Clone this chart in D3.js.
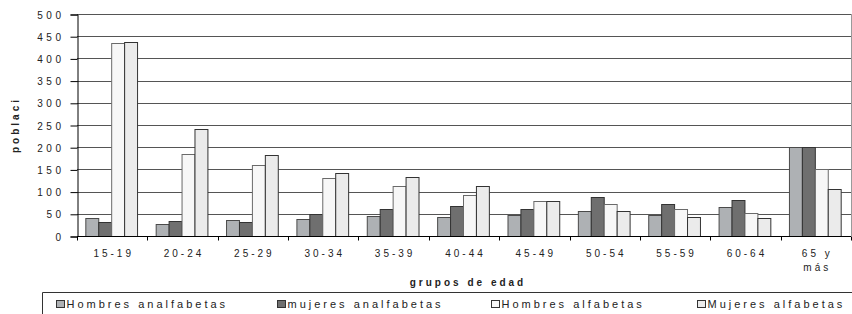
<!DOCTYPE html>
<html>
<head>
<meta charset="utf-8">
<script src="https://cdn.jsdelivr.net/npm/d3@7"></script>
<style>
  html, body { margin: 0; padding: 0; background: #fff; }
  svg { display: block; font-family: "Liberation Sans", Arial, sans-serif; }
</style>
</head>
<body>
<svg id="chart" width="852" height="314"></svg>
<script>
const categories = ["15-19", "20-24", "25-29", "30-34", "35-39", "40-44", "45-49", "50-54", "55-59", "60-64", "65 y\nmás"];
const seriesNames = ["Hombres analfabetas", "mujeres analfabetas", "Hombres alfabetas", "Mujeres alfabetas"];
const hombresAnalfabetas = [40, 28, 35, 39, 44, 43, 47, 56, 48, 66, 200];
const mujeresAnalfabetas = [31, 34, 32, 50, 60, 67, 60, 88, 73, 80, 200];
const hombresAlfabetas = [435, 184, 159, 131, 113, 92, 78, 73, 60, 52, 152];
const mujeresAlfabetas = [438, 240, 182, 143, 132, 113, 78, 56, 43, 41, 106];
const yTicks = [0, 50, 100, 150, 200, 250, 300, 350, 400, 450, 500];

const seriesValues = [hombresAnalfabetas, mujeresAnalfabetas, hombresAlfabetas, mujeresAlfabetas];
const fills = ["#aeb1b4", "#6f6f6f", "#f7f7f7", "#ebebeb"];
const strokes = ["#4a4a4a", "#333333", "#6a6a6a", "#333333"];

const svg = d3.select("#chart");
const pLeft = 77, pRight = 851, pTop = 14, pBottom = 236;

const x = d3.scaleBand().domain(categories).range([pLeft, pRight]).paddingInner(0).paddingOuter(0);
const xs = d3.scaleBand().domain(d3.range(seriesNames.length)).range([0, x.bandwidth()]).paddingInner(0).paddingOuter(0.72);
const y = d3.scaleLinear().domain([0, 500]).range([pBottom, pTop]);

// gridlines
svg.append("g").selectAll("line").data(yTicks.filter(d => d > 0)).join("line")
  .attr("x1", pLeft).attr("x2", pRight)
  .attr("y1", d => Math.round(y(d)) + 0.5).attr("y2", d => Math.round(y(d)) + 0.5)
  .attr("stroke", "#555555").attr("stroke-width", 1);

// right border
svg.append("line").attr("x1", pRight + 0.5).attr("x2", pRight + 0.5)
  .attr("y1", pTop).attr("y2", pBottom).attr("stroke", "#9a9a9a");

// bars
const groups = svg.append("g").selectAll("g").data(categories).join("g")
  .attr("transform", d => `translate(${x(d)},0)`);
groups.selectAll("rect").data((d, i) => seriesValues.map((s, k) => ({k, v: s[i]}))).join("rect")
  .attr("x", d => xs(d.k) - 0.5)
  .attr("width", xs.bandwidth())
  .attr("y", d => Math.round(y(d.v)) + 0.5)
  .attr("height", d => Math.round(pBottom) - Math.round(y(d.v)))
  .attr("fill", d => fills[d.k])
  .attr("stroke", d => strokes[d.k])
  .attr("stroke-width", 1);

// y axis
const yAxis = d3.axisLeft(y).tickValues(yTicks).tickSize(7).tickPadding(6).tickFormat(d3.format("d"));
const ya = svg.append("g").attr("transform", `translate(${pLeft + 0.5},0.5)`).call(yAxis);
ya.select(".domain").attr("stroke", "#000");
ya.selectAll(".tick line").attr("stroke", "#000");
ya.selectAll(".tick text").attr("font-size", 10).attr("fill", "#222")
  .attr("font-family", "Liberation Sans, Arial, sans-serif").attr("letter-spacing", "3.5px")
  .attr("dy", "0.36em");

// x axis
const xa = svg.append("g").attr("transform", `translate(0,${pBottom + 0.5})`);
xa.append("line").attr("x1", pLeft).attr("x2", pRight).attr("stroke", "#000");
const bounds = categories.map(c => x(c)).concat([pRight]);
xa.selectAll("line.tk").data(bounds).join("line").attr("class", "tk")
  .attr("x1", d => Math.round(d) + 0.5).attr("x2", d => Math.round(d) + 0.5)
  .attr("y1", 0).attr("y2", 4).attr("stroke", "#000");
xa.selectAll("text.lbl").data(categories).join("text").attr("class", "lbl")
  .attr("text-anchor", "middle")
  .attr("font-size", 10).attr("fill", "#222").attr("letter-spacing", "3px")
  .each(function(d) {
    const t = d3.select(this);
    d.split("\n").forEach((line, i) => {
      t.append("tspan").attr("x", x(d) + x.bandwidth() / 2 + 1.5).attr("y", 20 + i * 14).text(line);
    });
  });

// axis titles
svg.append("text").attr("x", 468).attr("y", 286).attr("text-anchor", "middle")
  .attr("font-size", 10).attr("font-weight", "bold").attr("letter-spacing", "3px").attr("fill", "#222")
  .text("grupos de edad");
svg.append("text").attr("transform", "translate(19,125) rotate(-90)").attr("text-anchor", "middle")
  .attr("font-size", 10).attr("font-weight", "bold").attr("letter-spacing", "3px").attr("fill", "#222")
  .text("poblaci");

// legend
const legendX = [56, 277, 491, 697];
const lg = svg.append("g");
lg.append("path").attr("d", "M42.5,314 V292.5 H852").attr("fill", "none").attr("stroke", "#333");
const items = lg.selectAll("g").data(seriesNames).join("g")
  .attr("transform", (d, i) => `translate(${legendX[i]},0)`);
items.append("rect").attr("x", 0.5).attr("y", 300.5).attr("width", 8).attr("height", 7)
  .attr("fill", (d, i) => fills[i]).attr("stroke", "#333");
items.append("text").attr("x", 10.5).attr("y", 308).attr("font-size", 11).attr("fill", "#222")
  .attr("letter-spacing", "3px").text(d => d);
</script>
</body>
</html>
